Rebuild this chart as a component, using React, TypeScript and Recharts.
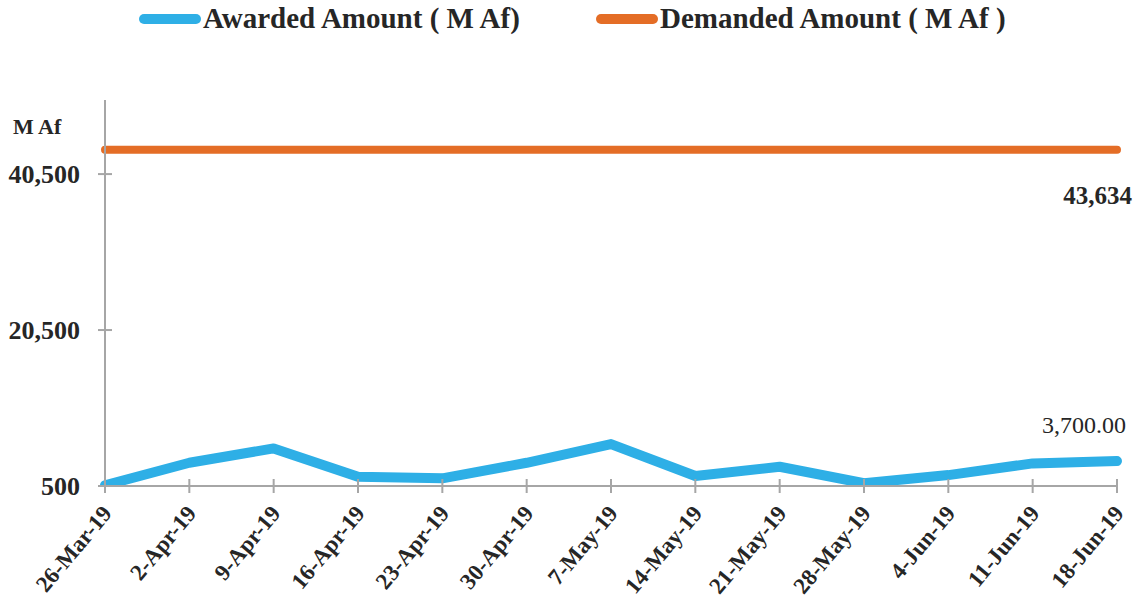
import React from 'react';
import { LineChart, Line, XAxis, YAxis, LabelList } from 'recharts';

const categories = ['26-Mar-19','2-Apr-19','9-Apr-19','16-Apr-19','23-Apr-19','30-Apr-19','7-May-19','14-May-19','21-May-19','28-May-19','4-Jun-19','11-Jun-19','18-Jun-19'];
const awarded = [600, 3480, 5320, 1690, 1480, 3480, 5870, 1780, 2970, 850, 1900, 3400, 3700];
const demanded = [43634, 43634, 43634, 43634, 43634, 43634, 43634, 43634, 43634, 43634, 43634, 43634, 43634];
const yTicks = [500, 20500, 40500];
const yDomain = [500, 50000];

const data = categories.map((c, i) => ({ date: c, awarded: awarded[i], demanded: demanded[i] }));

const FONT = '"Liberation Serif", serif';
const BLUE = '#2EAFE6';
const ORANGE = '#E46D26';
const AXIS = '#A6A6A6';
const TEXT = '#262626';

const fmt = (v: number) => v.toLocaleString('en-US');

const XTick = (props: any) => {
  const { x, y, payload } = props;
  const ax = x + 8;
  const ay = y + 12;
  return (
    <text x={ax} y={ay} transform={`rotate(-50, ${ax}, ${ay})`} textAnchor="end" fontFamily={FONT} fontWeight="bold" fontSize={23} fill={TEXT}>
      {payload.value}
    </text>
  );
};

const lastIdx = categories.length - 1;

const AwardedLabel = (props: any) => {
  const { x, y, index, value } = props;
  if (index !== lastIdx) return null;
  return (
    <text x={x + 9} y={y - 28} textAnchor="end" fontFamily={FONT} fontSize={24} fill={TEXT}>
      {Number(value).toLocaleString('en-US', { minimumFractionDigits: 2, maximumFractionDigits: 2 })}
    </text>
  );
};

const DemandedLabel = (props: any) => {
  const { x, y, index, value } = props;
  if (index !== lastIdx) return null;
  return (
    <text x={x + 15} y={y + 54} textAnchor="end" fontFamily={FONT} fontWeight="bold" fontSize={25} fill={TEXT}>
      {fmt(Number(value))}
    </text>
  );
};

const UnitLabel = (props: any) => {
  const { viewBox } = props;
  return (
    <text x={viewBox.x + 13} y={viewBox.y + 34} fontFamily={FONT} fontWeight="bold" fontSize={22} fill={TEXT}>
      M Af
    </text>
  );
};

const LegendItem = ({ color, label, swatchLeft, textLeft }: any) => (
  <>
    <div style={{ position: 'absolute', left: swatchLeft, top: 14, width: 62, height: 10, borderRadius: 5, background: color }} />
    <div style={{ position: 'absolute', left: textLeft, top: 0, fontFamily: FONT, fontWeight: 'bold', fontSize: 29, color: TEXT, whiteSpace: 'nowrap', lineHeight: '36px' }}>{label}</div>
  </>
);

export default function App() {
  return (
    <div style={{ position: 'absolute', left: 0, top: 0, width: 1140, height: 599, background: '#fff' }}>
      <LegendItem color={BLUE} label="Awarded Amount ( M Af)" swatchLeft={139} textLeft={203} />
      <LegendItem color={ORANGE} label="Demanded Amount ( M Af )" swatchLeft={596} textLeft={660} />
      <LineChart width={1140} height={599} data={data} margin={{ top: 100, right: 23, bottom: 0, left: 0 }}>
        <XAxis
          dataKey="date"
          height={113}
          interval={0}
          padding={{ left: 0, right: 0 }}
          stroke={AXIS}
          strokeWidth={2}
          tickSize={14}
          tickLine={{ transform: 'translate(0,-7)', stroke: AXIS, strokeWidth: 2 }}
          tick={<XTick />}
        />
        <YAxis
          width={105}
          domain={yDomain}
          ticks={yTicks}
          allowDataOverflow
          stroke={AXIS}
          strokeWidth={2}
          tickSize={14}
          tickMargin={11}
          tickLine={{ transform: 'translate(7,0)', stroke: AXIS, strokeWidth: 2 }}
          tickFormatter={fmt}
          tick={{ fontFamily: FONT, fontWeight: 'bold', fontSize: 26, fill: TEXT }}
          label={<UnitLabel />}
        />
        <Line type="linear" dataKey="demanded" stroke={ORANGE} strokeWidth={8} strokeLinecap="round" dot={false} isAnimationActive={false}>
          <LabelList dataKey="demanded" content={<DemandedLabel />} />
        </Line>
        <Line type="linear" dataKey="awarded" stroke={BLUE} strokeWidth={10} strokeLinecap="round" strokeLinejoin="round" dot={false} isAnimationActive={false}>
          <LabelList dataKey="awarded" content={<AwardedLabel />} />
        </Line>
      </LineChart>
    </div>
  );
}
